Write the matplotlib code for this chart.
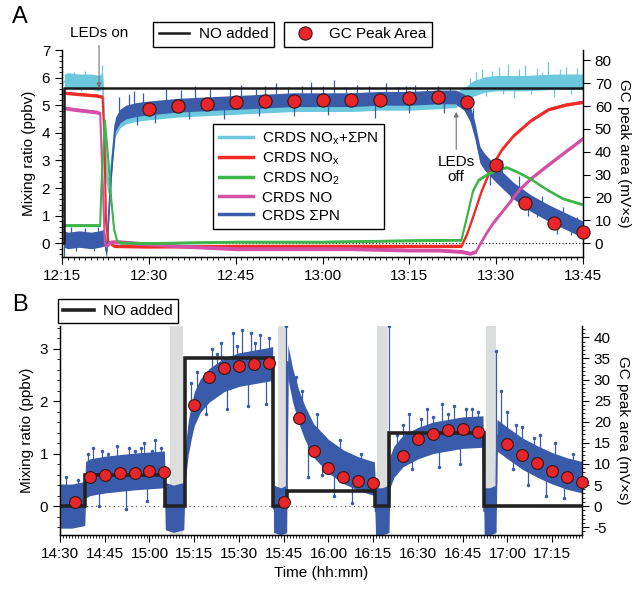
import numpy as np
import matplotlib.pyplot as plt
from matplotlib.ticker import MultipleLocator, FuncFormatter
from matplotlib.lines import Line2D

plt.rcParams['font.family'] = ['Liberation Sans', 'DejaVu Sans']
plt.rcParams['font.size'] = 11
plt.rcParams['mathtext.fontset'] = 'custom'
plt.rcParams['mathtext.rm'] = 'Liberation Sans'
plt.rcParams['mathtext.it'] = 'Liberation Sans:italic'
plt.rcParams['mathtext.default'] = 'regular'
plt.rcParams['axes.unicode_minus'] = False

# ---------------- panel A data (minutes after 12:00) ----------------
t_tot_a = [15.4, 16, 18, 20, 21.5, 22.0, 22.4, 22.8, 23.2, 23.6, 24.2, 25, 26, 28, 30, 35, 40, 45, 50,
           55, 60, 65, 70, 75, 80, 83, 84.5, 86, 88, 90, 95, 100, 105]
tot_a = [5.85, 5.9, 5.85, 5.85, 5.8, 5.95, 4.0, 2.2, 2.0, 3.0, 4.15, 4.45, 4.6, 4.7, 4.75, 4.85, 4.9, 4.95, 5.0,
         5.05, 5.05, 5.05, 5.1, 5.1, 5.15, 5.2, 5.35, 5.6, 5.75, 5.8, 5.8, 5.85, 5.85]
tot_spike_t = [16, 17, 18.2, 19, 20.3, 21.1, 21.9, 85.5, 86.5, 87.5, 88.3, 89.2, 90.5, 91.2, 92, 93, 94, 95,
               96, 97, 98, 99, 100, 101, 102, 103, 104]
tot_spike_v = [6.1, 6.2, 5.5, 6.25, 6.1, 5.5, 6.45, 6.0, 6.2, 6.3, 5.35, 6.25, 6.4, 5.4, 6.5, 5.25, 6.3, 6.45,
               5.4, 6.35, 6.2, 6.55, 5.3, 6.3, 6.4, 5.4, 6.35]

t_pn_a = [15.4, 16, 18, 20, 21.5, 22.3, 22.7, 23.2, 23.6, 24.2, 25, 26, 28, 30, 35, 40, 45, 50, 55, 60,
          65, 70, 75, 80, 83, 84.5, 85.5, 86.3, 87.2, 88, 90, 93, 96, 99, 102, 105]
pn_a = [0.15, 0.1, 0.15, 0.1, 0.15, 0.2, -0.3, 1.5, 2.8, 4.3, 4.6, 4.75, 4.85, 4.9, 5.0, 5.05, 5.1, 5.15, 5.2, 5.2,
        5.2, 5.25, 5.25, 5.3, 5.3, 5.1, 4.7, 4.1, 3.2, 2.95, 2.5, 1.9, 1.45, 1.1, 0.8, 0.5]
pn_a_noise = [0.3] * 6 + [0.25] * 4 + [0.25] * 15 + [0.3] * 11
pn_spike_t = [15.3, 15.3, 16.5, 17.5, 19, 20.5, 21.2,
              24.8, 26.5, 27.5, 28, 29, 31, 33, 35.5, 37, 38, 40.5, 43, 44, 46, 48.5, 49, 50, 52, 54, 55,
              56.5, 58, 60, 61, 62, 64, 66, 68, 69, 71, 73, 74.5, 75, 76, 78, 80, 81, 82,
              86, 89, 91, 92.5, 94, 95.5, 97, 98, 100.5, 101.5, 103, 104]
pn_spike_v = [3.0, -0.5, 0.6, -0.3, 0.55, -0.3, 0.6,
              5.3, 5.4, 5.5, 4.3, 5.45, 4.35, 5.6, 5.55, 4.5, 5.7, 5.6, 4.5, 5.65, 5.75, 5.6, 4.6, 5.7, 5.8,
              5.65, 4.6, 5.7, 5.85, 5.7, 4.65, 5.9, 5.65, 5.75, 5.7, 4.55, 5.8, 5.65, 5.7, 4.7, 5.75, 5.6, 5.7,
              4.7, 5.65,
              4.9, 2.1, 3.0, 1.5, 2.45, 1.0, 0.95, 1.7, 0.35, 1.3, 0.3, 0.95]

t_nox_a = [15.4, 18, 21, 22.0, 22.3, 22.6, 23, 24, 30, 45, 60, 75, 84, 85, 86, 87.5, 89, 90, 91, 93, 96, 99, 102, 105]
nox_a = [5.45, 5.4, 5.35, 5.3, 4.0, 0.8, 0.05, -0.1, -0.12, -0.1, -0.1, -0.1, -0.1, 0.35, 0.95, 1.9, 2.65, 3.05,
         3.4, 3.9, 4.45, 4.85, 5.02, 5.12]

t_no2_a = [15.4, 18, 21.6, 21.8, 22.4, 23.0, 23.5, 24.0, 24.5, 25, 30, 45, 60, 75, 84, 85, 86, 87, 88.5, 90,
           91.8, 93.5, 95.8, 98.7, 101.5, 105]
no2_a = [0.65, 0.65, 0.65, 2.0, 4.45, 3.0, 1.6, 0.5, 0.1, 0.02, 0.0, 0.05, 0.05, 0.1, 0.12, 1.0, 1.9, 2.3, 2.5, 2.65,
         2.75, 2.6, 2.35, 1.95, 1.62, 1.4]

t_no_a = [15.4, 17, 19, 21, 21.6, 22.4, 22.6, 23.5, 25, 28, 35, 45, 55, 65, 75, 80, 84, 85.5, 86.5, 87.3, 88.4,
          89.5, 91.8, 94, 96, 98.7, 101.5, 105]
no_a = [4.9, 4.85, 4.8, 4.75, 4.7, 0.0, -0.1, 0.05, 0.05, 0.0, -0.1, -0.2, -0.2, -0.2, -0.25, -0.25, -0.3, -0.37,
        -0.3, 0.0, 0.4, 0.75, 1.35, 1.95, 2.35, 2.8, 3.25, 3.8]

t_added_a = [15, 15.4, 105]
added_a = [0, 5.62, 5.62]

t_gc_a = [30, 35, 40, 45, 50, 55, 60, 65, 70, 75, 80, 85, 90, 95, 100, 105]
gc_a = [58.6, 59.9, 60.8, 61.7, 62.2, 62.2, 62.5, 62.5, 62.6, 63.4, 63.8, 61.8, 34.1, 17.5, 8.9, 4.8]

# ---------------- panel B data (minutes after 14:00) ----------------
t_pn_b = [30, 34, 38.3, 38.6, 40, 45, 50, 55, 60, 65.0, 65.3, 68, 71.5, 72, 73, 74, 75, 77, 80, 85, 90, 95,
          100, 101.3, 101.6, 104, 106.0, 106.4, 108, 110, 112, 115, 120, 125, 130, 135.4, 135.8, 138, 140.3,
          140.6, 142, 145, 150, 155, 160, 165, 171.8, 172.2, 174, 176.2, 176.5, 180, 185, 190, 195, 200, 205]
pn_b = [0.0, 0.0, 0.05, 0.5, 0.55, 0.6, 0.63, 0.66, 0.68, 0.7, 0.0, -0.05, 0.0, 0.8, 1.3, 1.6, 1.85, 2.1, 2.3,
        2.5, 2.6, 2.65, 2.7, 2.72, -0.05, -0.1, -0.05, 2.75, 2.3, 1.9, 1.6, 1.25, 0.95, 0.75, 0.62, 0.52, -0.1,
        -0.1, -0.05, 0.65, 0.85, 1.05, 1.2, 1.3, 1.35, 1.4, 1.42, -0.1, -0.1, -0.05, 1.35, 1.2, 1.0, 0.85, 0.72,
        0.62, 0.55]
pn_b_noise = ([0.42] * 3 + [0.35] * 7 + [0.45] * 3 + [0.32] * 11 + [0.45] * 3 + [0.32] * 9 + [0.45] * 3
              + [0.3] * 8 + [0.45] * 3 + [0.3] * 7)
pn_b_spike_t = [32, 36, 39.5, 41, 43, 44, 46, 49, 51, 52, 53, 55, 57, 58, 59, 61, 62, 64,
                74, 76, 79, 81, 82.5, 84, 86, 88, 89.5, 91, 93, 94, 95.5, 97, 99, 100,
                105.9, 107.5, 109, 111, 113, 116, 118, 122, 124, 128, 131,
                140.4, 143, 145, 147, 148, 151, 153, 155, 157, 158, 160, 162, 164, 166, 168, 170,
                176.3, 178, 180, 182, 183, 185, 187, 189, 191, 193, 196, 199, 202]
pn_b_spike_v = [0.55, 0.5, 1.0, 1.1, 0.0, 1.05, 1.0, 1.15, 0.95, -0.05, 1.1, 1.05, 1.1, 1.2, 0.1, 1.05, 1.25, 1.1,
                2.35, 2.55, 1.75, 3.0, 2.9, 3.1, 1.85, 3.3, 3.05, 3.35, 1.9, 3.3, 3.1, 3.25, 1.95, 3.2,
                3.43, 2.6, 2.45, 2.2, 0.55, 1.75, 0.6, 0.2, 1.25, 0.05, 1.0,
                3.43, 1.35, 1.55, 1.75, 0.7, 1.65, 1.85, 1.7, 0.75, 1.95, 1.75, 1.9, 0.8, 1.85, 1.85, 1.8,
                2.95, 2.2, 1.8, 0.7, 1.55, 1.5, 0.4, 1.3, 1.35, 0.2, 1.2, 0.15, 1.0]

t_added_b = [30, 38.4, 65.2, 71.9, 101.5, 106.2, 135.6, 140.4, 172.0, 205]
added_b = [0, 0.59, 0, 2.82, 0, 0.28, 0, 1.40, 0, 0]

led_off_start = [66.9, 103.2, 136.2, 172.8]
led_off_end = [71.1, 106.0, 140.1, 176.1]

t_gc_b = [35, 40, 45, 50, 55, 60, 65, 75, 80, 85, 90, 95, 100, 105, 110, 115, 120, 125, 130, 135,
          145, 150, 155, 160, 165, 170, 180, 185, 190, 195, 200, 205]
gc_b = [0.96, 6.8, 7.4, 7.9, 7.9, 8.3, 8.0, 24.0, 30.6, 32.7, 33.2, 33.6, 34.0, 1.05, 20.8, 13.1, 9.0, 7.0,
        6.0, 5.45, 11.8, 15.8, 17.2, 18.0, 18.2, 17.6, 14.7, 12.2, 10.2, 8.4, 6.8, 5.6]

# colours
c_tot = '#6cc9dd'
c_pn = '#3a5ba9'
c_nox = '#ee2b24'
c_no2 = '#3cb54a'
c_no = '#d44fa6'
c_gc = '#e8262a'


def trace(ax, t, y, noise, color, lw=1.2, z=2):
    t = np.asarray(t, float)
    y = np.asarray(y, float)
    noise = np.asarray(noise, float) * np.ones_like(y)
    ax.fill_between(t, y - noise, y + noise, color=color, lw=0, zorder=z)
    ax.plot(t, y, color=color, lw=lw, zorder=z)


def spikes(ax, t_line, y_line, ts, vs, color, z=2, dots=False):
    base = np.interp(ts, t_line, y_line)
    ax.vlines(ts, base, vs, color=color, lw=0.9, zorder=z)
    if dots:
        ax.plot(ts, vs, '.', color=color, ms=3, zorder=z)


def hhmm(h0):
    return FuncFormatter(lambda t, pos: f"{h0 + int(round(t)) // 60}:{int(round(t)) % 60:02d}")


fig = plt.figure(figsize=(6.37, 5.91), dpi=100)
W, H = 637, 591
axA = fig.add_axes([62 / W, 1 - 257 / H, (583 - 62) / W, (257 - 50) / H])
axA2 = axA.twinx()
axB = fig.add_axes([60 / W, 1 - 535 / H, (582 - 60) / W, (535 - 326) / H])
axB2 = axB.twinx()

#---- panel A
axA.axhline(0, color='k', ls=(0, (1, 2)), lw=0.8, zorder=1)
trace(axA, t_tot_a, tot_a, 0.28, c_tot)
spikes(axA, t_tot_a, tot_a, tot_spike_t, tot_spike_v, c_tot)
trace(axA, t_pn_a, pn_a, pn_a_noise, c_pn, z=3)
spikes(axA, t_pn_a, pn_a, pn_spike_t, pn_spike_v, c_pn, z=3)
trace(axA, t_nox_a, nox_a, 0.06, c_nox, lw=1.5, z=4)
trace(axA, t_no_a, no_a, 0.07, c_no, lw=1.5, z=4)
trace(axA, t_no2_a, no2_a, 0.05, c_no2, lw=1.5, z=5)
axA.plot(t_added_a, added_a, drawstyle='steps-post', color='#1a1a1a', lw=1.8, zorder=6)

axA2.plot(t_gc_a, gc_a, 'o', ms=9.5, mfc=c_gc, mec='#3a1515', mew=0.8, clip_on=False, zorder=7)

axA.set_xlim(15, 105)
axA.set_ylim(-0.5, 7.0)
axA2.set_ylim(-6.03, 84.5)
axA.xaxis.set_major_locator(MultipleLocator(15))
axA.xaxis.set_minor_locator(MultipleLocator(1))
axA.xaxis.set_major_formatter(hhmm(12))
axA.set_yticks(range(0, 8))
axA.yaxis.set_minor_locator(MultipleLocator(0.2))
axA2.set_yticks(range(0, 90, 10))
axA.set_ylabel('Mixing ratio (ppbv)')
axA2.set_ylabel('GC peak area (mV×s)', rotation=270, labelpad=14)

axA.annotate('LEDs on', xy=(21.4, 5.62), xytext=(21.4, 7.62), ha='center', va='center',
             arrowprops=dict(arrowstyle='-|>', color='0.45', lw=0.8, mutation_scale=7, shrinkA=2, shrinkB=0),
             annotation_clip=False, zorder=8)
axA.annotate('LEDs\noff', xy=(83.1, 4.76), xytext=(83.1, 2.68), ha='center', va='center', linespacing=1.05,
             arrowprops=dict(arrowstyle='-|>', color='0.45', lw=0.8, mutation_scale=7, shrinkA=2, shrinkB=0),
             zorder=8)

#---- panel B
axB.axhline(0, color='0.35', ls=(0, (1, 3)), lw=0.8, zorder=1)
for s, e in zip(led_off_start, led_off_end):
    axB.axvspan(s, e, color='#dcdddd', lw=0, zorder=0.5)
trace(axB, t_pn_b, pn_b, pn_b_noise, c_pn, z=3)
spikes(axB, t_pn_b, pn_b, pn_b_spike_t, pn_b_spike_v, c_pn, z=3, dots=True)
axB.plot(t_added_b, added_b, drawstyle='steps-post', color='#222222', lw=2.6, zorder=6,
         solid_joinstyle='miter')
axB2.plot(t_gc_b, gc_b, 'o', ms=8.5, mfc=c_gc, mec='#3a1515', mew=0.8, clip_on=False, zorder=7)

axB.set_xlim(30, 205)
axB.set_ylim(-0.55, 3.43)
axB2.set_ylim(-6.85, 42.7)
axB.set_xticks(range(30, 200, 15))
axB.xaxis.set_minor_locator(MultipleLocator(1))
axB.xaxis.set_major_formatter(hhmm(14))
axB.set_yticks([0, 1, 2, 3])
axB.yaxis.set_minor_locator(MultipleLocator(0.2))
axB2.set_yticks(range(-5, 45, 5))
axB2.yaxis.set_minor_locator(MultipleLocator(1))
axB.set_ylabel('Mixing ratio (ppbv)')
axB2.set_ylabel('GC peak area (mV×s)', rotation=270, labelpad=14)
axB.set_xlabel('Time (hh:mm)')

for ax in (axA, axA2, axB, axB2):
    ax.spines['top'].set_visible(False)
    for sp in ax.spines.values():
        sp.set_linewidth(0.9)
    ax.tick_params(which='major', direction='out', length=5, width=0.8)
    ax.tick_params(which='minor', direction='out', length=2.5, width=0.6)

# legends
leg_kw = dict(frameon=True, fancybox=False, edgecolor='k', framealpha=1, borderpad=0.35,
              handlelength=2.0, handletextpad=0.6)
h_added = Line2D([], [], color='#1a1a1a', lw=1.8)
h_gc = Line2D([], [], ls='none', marker='o', ms=9.5, mfc=c_gc, mec='#3a1515', mew=0.8)
fig.legend([h_added], ['NO added'], loc='center', bbox_to_anchor=(213.5 / W, 1 - 34.5 / H), **leg_kw)
fig.legend([h_gc], ['GC Peak Area'], loc='center', bbox_to_anchor=(358 / W, 1 - 34.5 / H), **leg_kw)
fig.legend([Line2D([], [], color='#222222', lw=2.6)], ['NO added'], loc='center',
           bbox_to_anchor=(118 / W, 1 - 311 / H), **leg_kw)

handles = [Line2D([], [], color=c, lw=2.5) for c in (c_tot, c_nox, c_no2, c_no, c_pn)]
labels = ['CRDS NO$_x$+ΣPN', 'CRDS NO$_x$', 'CRDS NO$_2$', 'CRDS NO', 'CRDS ΣPN']
leg = axA2.legend(handles, labels, loc='upper left', bbox_to_anchor=(213 / W, 1 - 124 / H),
                  bbox_transform=fig.transFigure, borderaxespad=0, labelspacing=0.25,
                  frameon=True, fancybox=False, edgecolor='k', framealpha=1, borderpad=0.4,
                  handlelength=2.2, handletextpad=0.6)
leg.set_zorder(10)

fig.text(20 / W, 1 - 17 / H, 'A', fontsize=17, ha='center', va='center')
fig.text(20 / W, 1 - 305 / H, 'B', fontsize=17, ha='center', va='center')

plt.savefig('out.png', dpi=100)
